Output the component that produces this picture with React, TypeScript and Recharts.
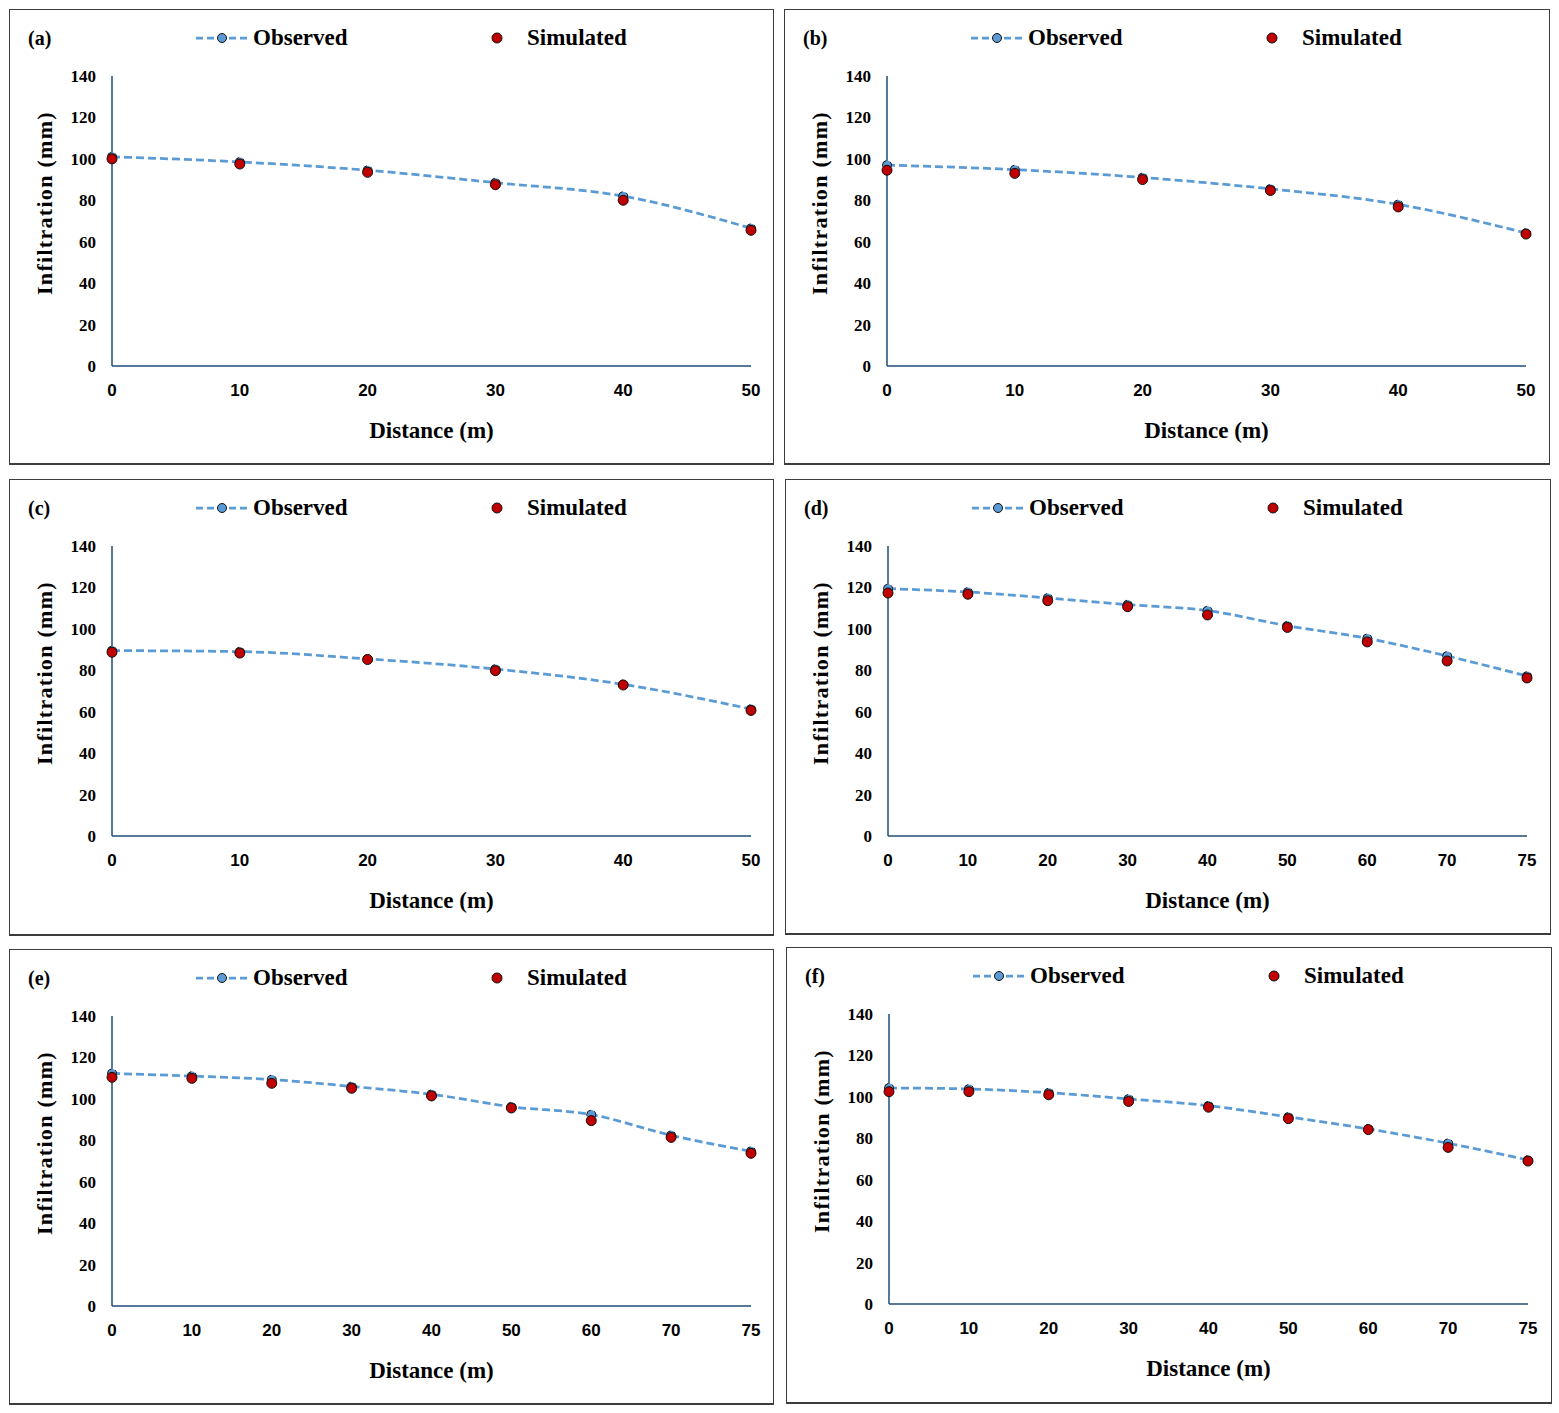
import { LineChart, Line, XAxis, YAxis, Label } from "recharts";

// distance categories (Excel-style category axis, evenly spaced)
const DIST_50 = ["0", "10", "20", "30", "40", "50"];
const DIST_75 = ["0", "10", "20", "30", "40", "50", "60", "70", "75"];
const Y_TICKS = [0, 20, 40, 60, 80, 100, 120, 140];

// infiltration (mm)
const OBS_A = [101, 98.5, 94.5, 88.5, 82, 66.5];
const SIM_A = [100, 97.5, 93.5, 87.5, 80, 65.5];
const OBS_B = [97, 94.8, 91, 85.5, 78, 64.2];
const SIM_B = [94.5, 93, 90, 84.7, 76.8, 63.7];
const OBS_C = [89.5, 89, 85.5, 80.6, 73.2, 61.3];
const SIM_C = [88.7, 88.3, 85.2, 79.8, 72.9, 60.6];
const OBS_D = [119.4, 117.8, 114.9, 111.7, 108.8, 101.5, 95.4, 86.9, 77.2];
const SIM_D = [117.3, 116.7, 113.6, 110.7, 106.7, 100.7, 93.7, 84.5, 76.3];
const OBS_E = [112.3, 111, 109.3, 106, 102.2, 96.2, 92.4, 82.4, 74.7];
const SIM_E = [110.4, 109.9, 107.5, 105.1, 101.4, 95.6, 89.5, 81.4, 73.7];
const OBS_F = [104.3, 103.8, 102, 99, 95.7, 90.3, 84.5, 77.6, 69.5];
const SIM_F = [102.5, 102.5, 101, 97.8, 95, 89.5, 84.2, 75.6, 69];

const SERIF = '"Liberation Serif", "Times New Roman", serif';
const SANS = '"Liberation Sans", Arial, sans-serif';
const OBS_COLOR = "#5B9BD5";
const SIM_COLOR = "#C00000";
const AXIS_COLOR = "#1F4E79";

// plot area inside each panel
const PLOT_LEFT = 102;
const PLOT_TOP = 66;
const PLOT_W = 639;
const PLOT_H = 290;
const XAXIS_H = 70;

interface Box {
  left: number;
  top: number;
  w: number;
  h: number;
}

interface PanelProps {
  tag: string;
  dist: string[];
  obs: number[];
  sim: number[];
  box: Box;
}

const legendText = {
  position: "absolute" as const,
  top: 14,
  lineHeight: "28px",
  fontFamily: SERIF,
  fontWeight: 700,
  fontSize: 23,
  color: "#000",
};

function LegendRow() {
  return (
    <>
      <svg width={60} height={14} style={{ position: "absolute", left: 185, top: 21 }}>
        <line
          x1={1}
          y1={7}
          x2={52}
          y2={7}
          stroke={OBS_COLOR}
          strokeWidth={2.75}
          strokeDasharray="7 4"
        />
        <circle cx={27} cy={7} r={4.5} fill={OBS_COLOR} stroke="#111" strokeWidth={1} />
      </svg>
      <div style={{ ...legendText, left: 243 }}>Observed</div>
      <svg width={14} height={14} style={{ position: "absolute", left: 480, top: 21 }}>
        <circle cx={7} cy={7} r={5} fill={SIM_COLOR} stroke="#111" strokeWidth={1} />
      </svg>
      <div style={{ ...legendText, left: 517 }}>Simulated</div>
    </>
  );
}

function Panel({ tag, dist, obs, sim, box }: PanelProps) {
  const data = dist.map((d, i) => ({ d, obs: obs[i], sim: sim[i] }));
  const W = box.w - 2;
  const H = box.h - 3;

  return (
    <div
      style={{
        position: "absolute",
        left: box.left,
        top: box.top,
        width: W,
        height: H,
        border: "1px solid #3c3c3c",
        borderBottomWidth: 2,
        background: "#fff",
      }}
    >
      <div
        style={{
          position: "absolute",
          left: 18,
          top: 15,
          lineHeight: "26px",
          fontFamily: SERIF,
          fontWeight: 700,
          fontSize: 20,
          color: "#000",
        }}
      >
        ({tag})
      </div>
      <LegendRow />
      <LineChart
        width={W}
        height={H}
        data={data}
        margin={{
          top: PLOT_TOP,
          right: W - PLOT_LEFT - PLOT_W,
          bottom: H - PLOT_TOP - PLOT_H - XAXIS_H,
          left: 0,
        }}
      >
        <XAxis
          dataKey="d"
          type="category"
          interval={0}
          height={XAXIS_H}
          padding={{ left: 0, right: 0 }}
          tickLine={false}
          tickSize={0}
          tickMargin={18}
          axisLine={{ stroke: AXIS_COLOR, strokeWidth: 1.5 }}
          tick={{ fontFamily: SANS, fontWeight: 700, fontSize: 17, fill: "#000" }}
        >
          <Label
            content={() => (
              <text
                x={PLOT_LEFT + PLOT_W / 2}
                y={420}
                textAnchor="middle"
                dominantBaseline="central"
                fontFamily={SERIF}
                fontWeight={700}
                fontSize={23}
                fill="#000"
              >
                Distance (m)
              </text>
            )}
          />
        </XAxis>
        <YAxis
          type="number"
          domain={[0, 140]}
          ticks={Y_TICKS}
          interval={0}
          width={PLOT_LEFT}
          tickLine={false}
          tickSize={0}
          tickMargin={16}
          axisLine={{ stroke: AXIS_COLOR, strokeWidth: 1.5 }}
          tick={{ fontFamily: SERIF, fontWeight: 700, fontSize: 17, fill: "#000" }}
        >
          <Label
            content={() => (
              <text
                x={34}
                y={193}
                transform="rotate(-90, 34, 193)"
                textAnchor="middle"
                dominantBaseline="central"
                fontFamily={SERIF}
                fontWeight={700}
                fontSize={22}
                letterSpacing={1.3}
                fill="#000"
              >
                Infiltration (mm)
              </text>
            )}
          />
        </YAxis>
        <Line
          type="monotone"
          dataKey="obs"
          stroke={OBS_COLOR}
          strokeWidth={2.75}
          strokeDasharray="8 4"
          dot={{ r: 4.5, fill: OBS_COLOR, stroke: "#111", strokeWidth: 1 }}
          activeDot={false}
          isAnimationActive={false}
        />
        <Line
          type="monotone"
          dataKey="sim"
          stroke="none"
          strokeWidth={0}
          dot={{ r: 5, fill: SIM_COLOR, stroke: "#111", strokeWidth: 1 }}
          activeDot={false}
          isAnimationActive={false}
        />
      </LineChart>
    </div>
  );
}

export default function App() {
  return (
    <div
      style={{
        position: "absolute",
        left: 0,
        top: 0,
        width: 1559,
        height: 1413,
        background: "#fff",
      }}
    >
      <Panel tag="a" dist={DIST_50} obs={OBS_A} sim={SIM_A} box={{ left: 9, top: 9, w: 765, h: 456 }} />
      <Panel tag="b" dist={DIST_50} obs={OBS_B} sim={SIM_B} box={{ left: 784, top: 9, w: 766, h: 456 }} />
      <Panel tag="c" dist={DIST_50} obs={OBS_C} sim={SIM_C} box={{ left: 9, top: 479, w: 765, h: 457 }} />
      <Panel tag="d" dist={DIST_75} obs={OBS_D} sim={SIM_D} box={{ left: 785, top: 479, w: 766, h: 456 }} />
      <Panel tag="e" dist={DIST_75} obs={OBS_E} sim={SIM_E} box={{ left: 9, top: 949, w: 765, h: 456 }} />
      <Panel tag="f" dist={DIST_75} obs={OBS_F} sim={SIM_F} box={{ left: 786, top: 947, w: 766, h: 457 }} />
    </div>
  );
}
